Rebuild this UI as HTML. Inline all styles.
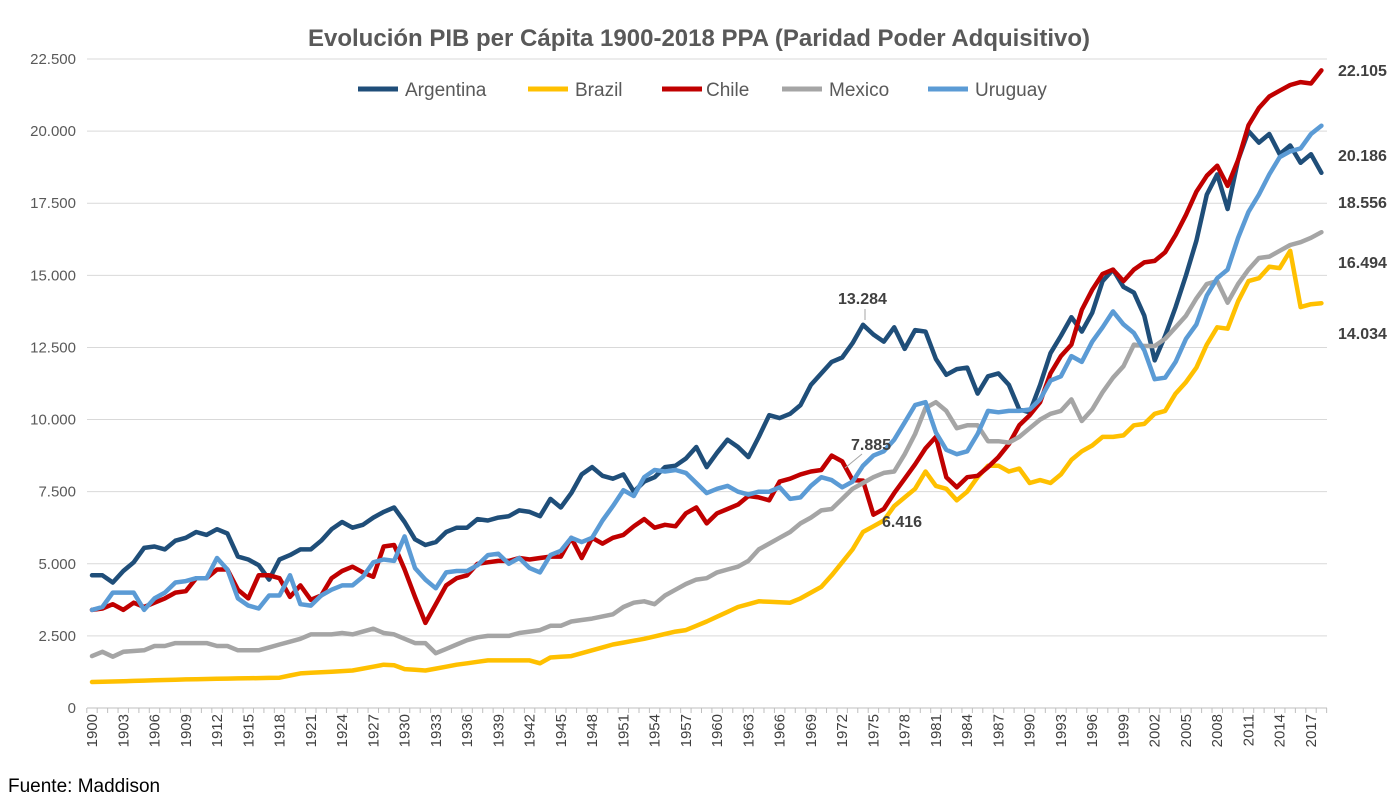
<!DOCTYPE html>
<html><head><meta charset="utf-8"><style>
body{margin:0;background:#fff;}
svg{display:block;font-family:"Liberation Sans",Calibri,sans-serif;}
</style></head><body>
<svg id="c" width="1399" height="807" xmlns="http://www.w3.org/2000/svg">
<rect x="0" y="0" width="1399" height="807" fill="#fff"/>
<text x="699" y="46" text-anchor="middle" font-size="24" font-weight="bold" fill="#595959">Evolución PIB per Cápita 1900-2018 PPA (Paridad Poder Adquisitivo)</text>
<g id="grid"></g>
<g id="axes"></g>
<g id="lines"></g>
<g font-size="19" fill="#595959">
<line x1="358" y1="89" x2="398" y2="89" stroke="#1F4E79" stroke-width="5"/><text x="405" y="96">Argentina</text>
<line x1="528" y1="89" x2="568" y2="89" stroke="#FFC000" stroke-width="5"/><text x="575" y="96">Brazil</text>
<line x1="662" y1="89" x2="702" y2="89" stroke="#C00000" stroke-width="5"/><text x="706" y="96">Chile</text>
<line x1="782" y1="89" x2="822" y2="89" stroke="#A5A5A5" stroke-width="5"/><text x="829" y="96">Mexico</text>
<line x1="928" y1="89" x2="968" y2="89" stroke="#5B9BD5" stroke-width="5"/><text x="975" y="96">Uruguay</text>
</g>
<g font-size="16" font-weight="bold" fill="#404040">
<text x="1338" y="76">22.105</text>
<text x="1338" y="161">20.186</text>
<text x="1338" y="208">18.556</text>
<text x="1338" y="268">16.494</text>
<text x="1338" y="339">14.034</text>
<text x="838" y="304">13.284</text>
<text x="851" y="450">7.885</text>
<text x="882" y="527">6.416</text>
</g>
<line x1="865" y1="309" x2="865" y2="320" stroke="#A5A5A5" stroke-width="1"/>
<line x1="862" y1="454" x2="845" y2="468" stroke="#A5A5A5" stroke-width="1"/>
<text x="8" y="792" font-size="19" fill="#000">Fuente: Maddison</text>
</svg>
<script>
const y0=708, ppu=(708-59)/22500, x0=92, dx=(1311-92)/117;
const X=i=>x0+i*dx, Y=v=>y0-v*ppu;
const ns="http://www.w3.org/2000/svg";
function el(t,a,p,txt){const e=document.createElementNS(ns,t);for(const k in a)e.setAttribute(k,a[k]);if(txt!==undefined)e.textContent=txt;document.getElementById(p).appendChild(e);return e;}
for(let v=0;v<=22500;v+=2500){
 if(v>0)el('line',{x1:87,x2:1327,y1:Y(v),y2:Y(v),stroke:'#D9D9D9','stroke-width':1},'grid');
 el('text',{x:76,y:Y(v)+5,'text-anchor':'end','font-size':15,fill:'#595959'},'axes',v===0?'0':(v/1000).toFixed(3));
}
el('line',{x1:87,x2:1327,y1:y0,y2:y0,stroke:'#BFBFBF','stroke-width':1},'axes');
for(let i=0;i<=119;i++){el('line',{x1:X(i)-dx/2,x2:X(i)-dx/2,y1:y0,y2:y0+5,stroke:'#BFBFBF'},'axes');}
for(let i=0;i<=117;i+=3){const x=X(i)+5,y=y0+6;el('text',{x:x,y:y,transform:`rotate(-90 ${x} ${y})`,'text-anchor':'end','font-size':15,fill:'#404040'},'axes',String(1900+i));}
function interp(o){const ks=Object.keys(o).map(Number).sort((a,b)=>a-b);const r=[];for(let y=1900;y<=2018;y++){let i=0;while(i<ks.length-1&&ks[i+1]<y)i++;const a=ks[i],b=ks[Math.min(i+1,ks.length-1)];if(y<=a){r.push(o[a]);continue;}r.push(o[a]+(o[b]-o[a])*(y-a)/(b-a));}return r;}
function arr(start,list){const o={};list.forEach((v,i)=>o[start+i]=v);return o;}
const arg=arr(1900,[4600,4600,4350,4750,5050,5550,5600,5500,5800,5900,6100,6000,6200,6050,5250,5150,4950,4450,5150,5300,5500,5500,5800,6200,6450,6250,6350,6600,6800,6950,6450,5850,5650,5750,6100,6250,6250,6550,6500,6600,6650,6850,6800,6650,7250,6950,7450,8100,8350,8050,7950,8100,7500,7850,8000,8350,8400,8650,9050,8350,8850,9300,9050,8700,9400,10150,10050,10200,10500,11200,11600,12000,12150,12650,13284,12950,12700,13200,12450,13100,13050,12100,11550,11750,11800,10900,11500,11600,11200,10350,10250,11200,12300,12900,13550,13050,13700,14800,15200,14600,14400,13600,12050,12900,13900,15000,16200,17800,18500,17300,19000,20000,19600,19900,19200,19500,18900,19200,18556]);
const bra={1900:900,1910:1000,1918:1050,1920:1200,1925:1300,1928:1500,1929:1480,1930:1350,1932:1300,1935:1500,1938:1650,1942:1650,1943:1550,1944:1750,1946:1800,1948:2000,1950:2200,1953:2400,1956:2650,1957:2700,1959:3000,1962:3500,1964:3700,1967:3650,1968:3800,1970:4200,1971:4600,1973:5500,1974:6100,1976:6500,1977:7000,1978:7300,1979:7600,1980:8200,1981:7700,1982:7600,1983:7200,1984:7500,1985:8000,1986:8400,1987:8400,1988:8200,1989:8300,1990:7800,1991:7900,1992:7800,1993:8100,1994:8600,1995:8900,1996:9100,1997:9400,1998:9400,1999:9450,2000:9800,2001:9850,2002:10200,2003:10300,2004:10900,2005:11300,2006:11800,2007:12600,2008:13200,2009:13150,2010:14100,2011:14800,2012:14900,2013:15300,2014:15250,2015:15850,2016:13900,2017:14000,2018:14034};
const chi=arr(1900,[3400,3450,3600,3400,3650,3500,3650,3800,4000,4050,4500,4500,4800,4800,4100,3800,4600,4600,4500,3850,4250,3750,3900,4500,4750,4900,4700,4550,5600,5650,4800,3850,2950,3600,4250,4500,4600,5000,5050,5100,5100,5200,5150,5200,5250,5250,5900,5200,5900,5700,5900,6000,6300,6550,6250,6350,6300,6750,6950,6400,6750,6900,7050,7350,7300,7200,7850,7950,8100,8200,8250,8750,8550,7900,7885,6700,6900,7450,7950,8450,9000,9400,8000,7650,8000,8050,8350,8700,9150,9800,10150,10600,11600,12200,12600,13800,14500,15050,15200,14800,15200,15450,15500,15800,16400,17100,17900,18450,18800,18100,19000,20200,20800,21200,21400,21600,21700,21650,22105]);
const mex={1900:1800,1901:1950,1902:1780,1903:1950,1905:2000,1906:2150,1907:2150,1908:2250,1911:2250,1912:2150,1913:2150,1914:2000,1916:2000,1917:2100,1919:2300,1920:2400,1921:2550,1923:2550,1924:2600,1925:2550,1926:2650,1927:2750,1928:2600,1929:2550,1930:2400,1931:2250,1932:2250,1933:1900,1934:2050,1935:2200,1936:2350,1937:2450,1938:2500,1940:2500,1941:2600,1943:2700,1944:2850,1945:2850,1946:3000,1948:3100,1950:3250,1951:3500,1952:3650,1953:3700,1954:3600,1955:3900,1957:4300,1958:4450,1959:4500,1960:4700,1962:4900,1963:5100,1964:5500,1965:5700,1966:5900,1967:6100,1968:6400,1969:6600,1970:6850,1971:6900,1972:7250,1973:7600,1974:7800,1975:8000,1976:8150,1977:8200,1978:8800,1979:9500,1980:10400,1981:10600,1982:10300,1983:9700,1984:9800,1985:9800,1986:9250,1987:9250,1988:9200,1989:9400,1990:9700,1991:10000,1992:10200,1993:10300,1994:10700,1995:9950,1996:10350,1997:10950,1998:11450,1999:11850,2000:12600,2001:12550,2002:12550,2003:12800,2004:13200,2005:13600,2006:14200,2007:14700,2008:14800,2009:14050,2010:14700,2011:15200,2012:15600,2013:15650,2014:15850,2015:16050,2016:16150,2017:16300,2018:16494};
const uru=arr(1900,[3400,3500,4000,4000,4000,3400,3800,4000,4350,4400,4500,4500,5200,4800,3800,3550,3450,3900,3900,4600,3600,3550,3900,4100,4250,4250,4550,5050,5150,5100,5950,4850,4450,4150,4700,4750,4750,4950,5300,5350,5000,5200,4850,4700,5300,5450,5900,5750,5900,6500,7000,7550,7350,8000,8250,8200,8250,8150,7800,7450,7600,7700,7500,7400,7500,7500,7650,7250,7300,7700,8000,7900,7650,7850,8400,8750,8900,9300,9900,10500,10600,9550,8950,8800,8900,9500,10300,10250,10300,10300,10350,10700,11350,11500,12200,12000,12700,13200,13750,13300,13000,12400,11400,11450,12000,12800,13300,14300,14900,15200,16300,17200,17800,18500,19100,19300,19400,19900,20186]);
[[arg,'#1F4E79'],[bra,'#FFC000'],[chi,'#C00000'],[mex,'#A5A5A5'],[uru,'#5B9BD5']].forEach(([d,c])=>{
 const v=interp(d);const pts=v.map((val,i)=>X(i).toFixed(1)+','+Y(val).toFixed(1)).join(' ');
 el('polyline',{points:pts,fill:'none',stroke:c,'stroke-width':4.5,'stroke-linejoin':'round','stroke-linecap':'round'},'lines');
});
</script>
</body></html>
